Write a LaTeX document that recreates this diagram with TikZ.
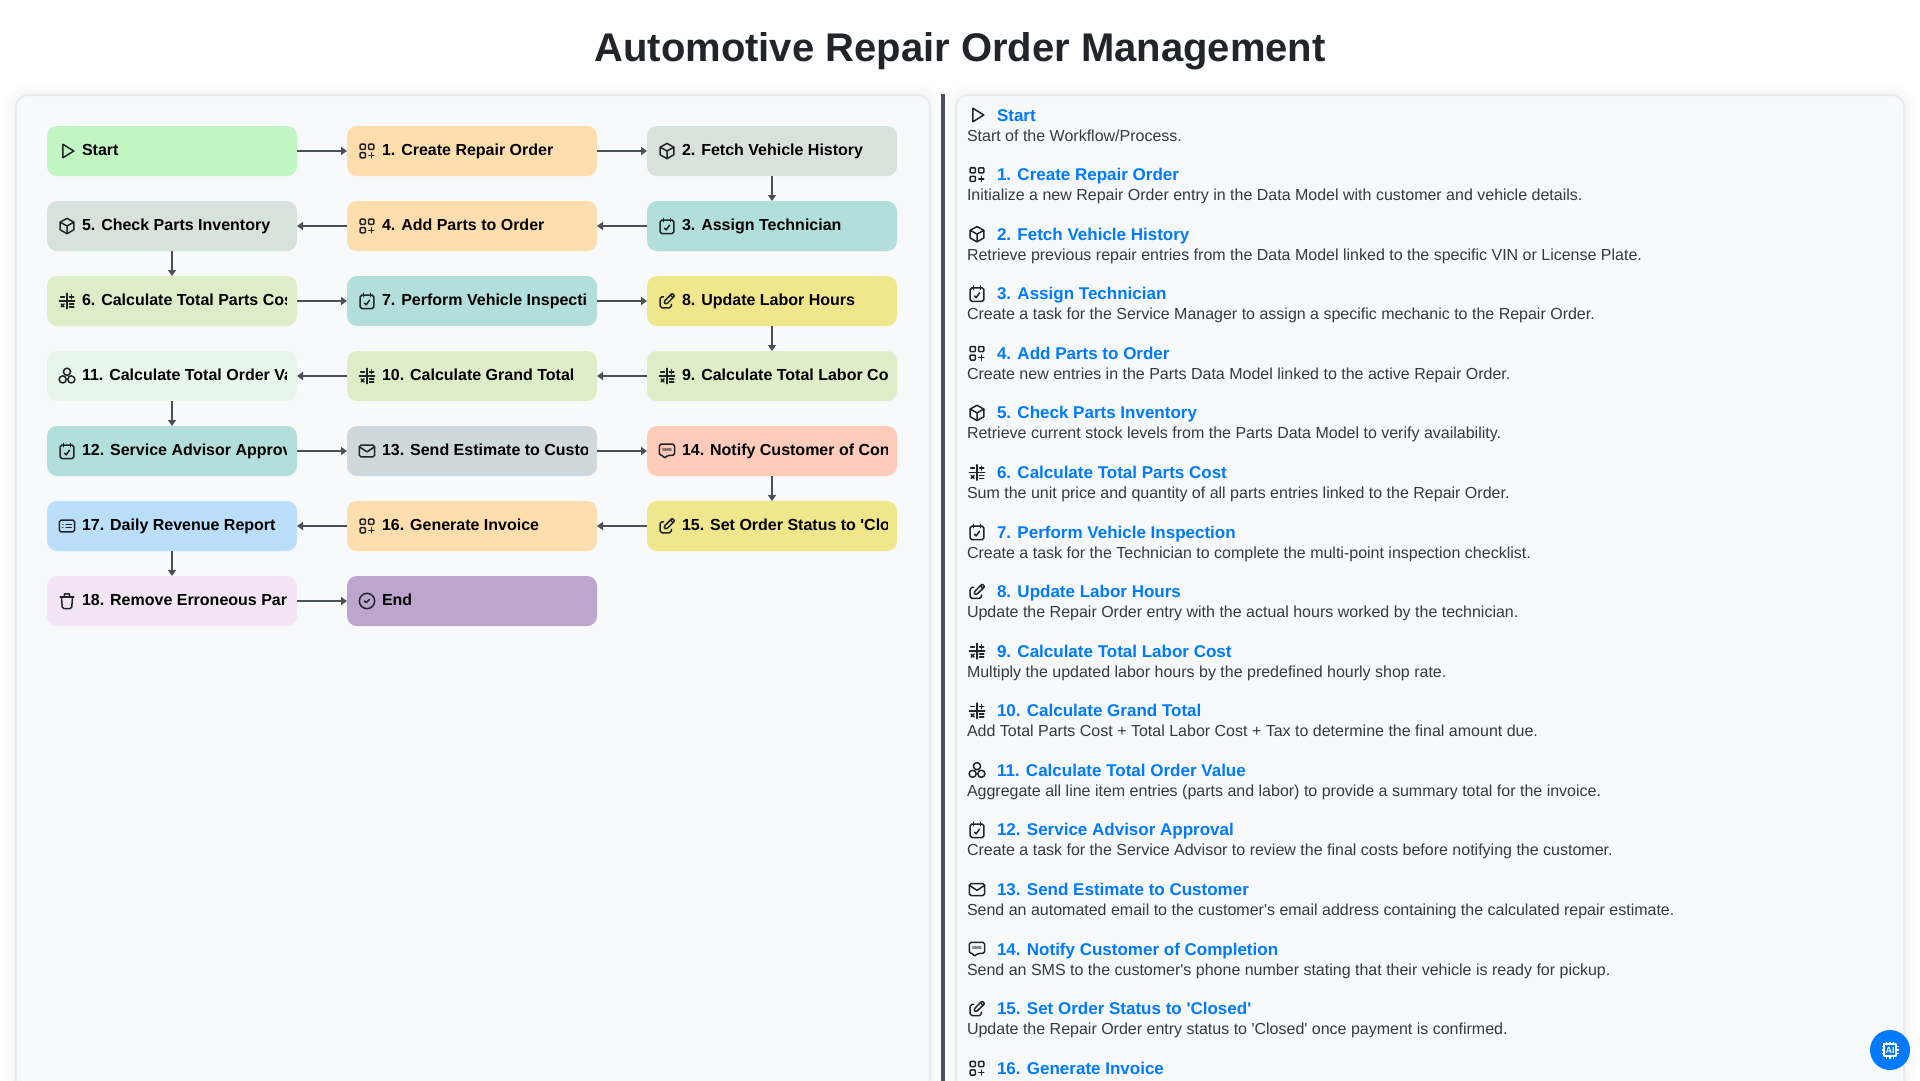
\documentclass[tikz,border=0pt]{standalone}
\usepackage{fontspec}
\usepackage{trimclip}
\usetikzlibrary{positioning,arrows.meta}
\newfontfamily\uifont{Liberation Sans}
\definecolor{startgreen}{HTML}{C1F5C1}
\definecolor{appsorange}{HTML}{FFDEAD}
\definecolor{boxgrey}{HTML}{D8E2DC}
\definecolor{taskteal}{HTML}{B2DFDB}
\definecolor{calcgreen}{HTML}{DCEDC8}
\definecolor{editkhaki}{HTML}{F0E68C}
\definecolor{sumgreen}{HTML}{E8F5E9}
\definecolor{mailgrey}{HTML}{CFD8DC}
\definecolor{smsred}{HTML}{FFCCBC}
\definecolor{reportblue}{HTML}{BBDEFB}
\definecolor{trashpink}{HTML}{F3E5F5}
\definecolor{endpurple}{HTML}{BCA6CE}
\definecolor{panelfill}{HTML}{F8F9FA}
\definecolor{panelline}{HTML}{E9ECEF}
\definecolor{arrowgrey}{HTML}{495057}
\definecolor{dividerblue}{HTML}{4A4E69}
\definecolor{linkblue}{HTML}{007BFF}
\definecolor{ink}{HTML}{212529}
\definecolor{bodytext}{HTML}{343A40}
\newcommand\steplabel[1]{\hspace*{35pt}\clipbox*{0pt -6pt 205pt 14pt}{#1}\hspace*{10pt}}
\tikzset{
  stepbox/.style={minimum width=250pt,minimum height=50pt,inner sep=0pt,outer sep=0pt,rounded corners=10pt,
    font=\uifont\bfseries\fontsize{16}{20}\selectfont,text=black},
  flow/.style={draw=arrowgrey,line width=1.7pt,-{Triangle[length=6pt,width=8pt]}},
  panel/.style={draw=panelline,line width=2pt,fill=panelfill,rounded corners=12pt},
  panelshade/.style={draw=black,opacity=.008,rounded corners=12pt},
  itemhead/.style={inner sep=0pt,outer sep=0pt,text height=13pt,text depth=7pt,text=linkblue,
    font=\uifont\bfseries\fontsize{17}{20}\selectfont},
  itemtext/.style={inner sep=0pt,outer sep=0pt,text height=13pt,text depth=7pt,text=bodytext,
    font=\uifont\fontsize{16}{20}\selectfont},
  icon/.style={x=.85pt,y=-.85pt,shift={(-12,-12)},draw=ink,line width=1.5pt,line cap=round,line join=round},
  pics/iconplay/.style={code={\begin{scope}[icon]
    \draw (7,4) -- (7,20) -- (20,12) -- cycle;
  \end{scope}}},
  pics/iconapps/.style={code={\begin{scope}[icon]
    \draw[rounded corners=.8pt] (4,4) rectangle (10,10);
    \draw[rounded corners=.8pt] (14,4) rectangle (20,10);
    \draw[rounded corners=.8pt] (4,14) rectangle (10,20);
    \draw (14,17) -- (20,17) (17,14) -- (17,20);
  \end{scope}}},
  pics/iconbox/.style={code={\begin{scope}[icon]
    \draw (12,3) -- (20,7.5) -- (20,16.5) -- (12,21) -- (4,16.5) -- (4,7.5) -- cycle;
    \draw (4,7.5) -- (12,12) -- (20,7.5) (12,12) -- (12,21);
  \end{scope}}},
  pics/iconcal/.style={code={\begin{scope}[icon]
    \draw[rounded corners=1.7pt] (4,5) rectangle (20,21);
    \draw (8,3) -- (8,7) (16,3) -- (16,7);
    \draw (9,14.5) -- (11,16.5) -- (15,11);
  \end{scope}}},
  pics/iconcalc/.style={code={\begin{scope}[icon]
    \draw (3,12) -- (21,12) (12,3) -- (12,21);
    \draw (4.5,7) -- (9,7) (15,7) -- (20,7) (17.5,4.5) -- (17.5,9.5);
    \draw (5,15.5) -- (8.5,19) (8.5,15.5) -- (5,19);
    \draw (15,15.5) -- (20,15.5) (15,19) -- (20,19);
  \end{scope}}},
  pics/iconedit/.style={code={\begin{scope}[icon]
    \draw[rounded corners=1.7pt] (8,7) -- (4,7) -- (4,20) -- (17,20) -- (17,16);
    \draw[rounded corners=.8pt] (9,12) -- (9,15) -- (12,15) -- (21,6) -- (18,3) -- cycle;
    \draw (16,5) -- (19,8);
  \end{scope}}},
  pics/iconmail/.style={code={\begin{scope}[icon]
    \draw[rounded corners=1.7pt] (3,5) rectangle (21,19);
    \draw (3,7) -- (12,13) -- (21,7);
  \end{scope}}},
  pics/iconsms/.style={code={\begin{scope}[icon]
    \draw[rounded corners=1.7pt] (3,4) -- (21,4) -- (21,17) -- (13,17) -- (8,21) -- (8,17) -- (3,17) -- cycle;
    \node (smstext) [inner sep=0pt,text=ink,font=\uifont\bfseries\fontsize{4.5}{5}\selectfont] at (12,10.5) {SMS};
  \end{scope}}},
  pics/iconlist/.style={code={\begin{scope}[icon]
    \draw[rounded corners=1.7pt] (3,5) rectangle (21,19);
    \draw (7,10) -- (7.01,10) (7,14) -- (7.01,14) (11,10) -- (17,10) (11,14) -- (17,14);
  \end{scope}}},
  pics/icontrash/.style={code={\begin{scope}[icon]
    \draw (4,7) -- (20,7);
    \draw[rounded corners=1.7pt] (5.5,7) -- (6.5,21) -- (17.5,21) -- (18.5,7);
    \draw[rounded corners=.8pt] (9,7) -- (9,3.5) -- (15,3.5) -- (15,7);
  \end{scope}}},
  pics/iconcheck/.style={code={\begin{scope}[icon]
    \draw (12,12) circle (9);
    \draw (9,12) -- (11,14) -- (15,10);
  \end{scope}}},
  pics/iconcluster/.style={code={\begin{scope}[icon]
    \draw (12,7) circle (4.2) (6.9,16) circle (4.2) (17.1,16) circle (4.2);
  \end{scope}}},
  pics/iconchip/.style={code={\begin{scope}[icon,draw=white,line cap=butt]
    \draw (5,5) rectangle (19,19);
    \draw (8,5) -- (8,2) (12,5) -- (12,2) (16,5) -- (16,2);
    \draw (8,19) -- (8,22) (12,19) -- (12,22) (16,19) -- (16,22);
    \draw (5,8) -- (2,8) (5,12) -- (2,12) (5,16) -- (2,16);
    \draw (19,8) -- (22,8) (19,12) -- (22,12) (19,16) -- (22,16);
  \end{scope}}},
}
\begin{document}
\begin{tikzpicture}[x=1pt,y=-1pt]
  \useasboundingbox (0,0) rectangle (1920,1080);
  \clip (0,0) rectangle (1920,1080);
  \fill[white] (0,0) rectangle (1920,1080);
  \node (title) [inner sep=0pt,text=ink,font=\uifont\bfseries\fontsize{40}{48}\selectfont] at (960,51) {Automotive Repair Order Management};

  % panels
  \draw[panelshade,line width=6pt] (16,95) rectangle (930,1100);
  \draw[panelshade,line width=12pt] (16,95) rectangle (930,1100);
  \draw[panelshade,line width=18pt] (16,95) rectangle (930,1100);
  \draw[panelshade,line width=24pt] (16,95) rectangle (930,1100);
  \draw[panelshade,line width=6pt] (956,95) rectangle (1904,1100);
  \draw[panelshade,line width=12pt] (956,95) rectangle (1904,1100);
  \draw[panelshade,line width=18pt] (956,95) rectangle (1904,1100);
  \draw[panelshade,line width=24pt] (956,95) rectangle (1904,1100);
  \draw[panel] (16,95) rectangle (930,1100);
  \draw[panel] (956,95) rectangle (1904,1100);
  \fill[dividerblue] (941,94) rectangle (945,1100);

  % flow
  \node (start)     [stepbox, fill=startgreen, anchor=north west] at (47,126) {\steplabel{Start}};
  \node (create)    [stepbox, fill=appsorange, right=50pt of start]     {\steplabel{1. Create Repair Order}};
  \node (fetch)     [stepbox, fill=boxgrey,    right=50pt of create]    {\steplabel{2. Fetch Vehicle History}};
  \node (assign)    [stepbox, fill=taskteal,   below=25pt of fetch]     {\steplabel{3. Assign Technician}};
  \node (addparts)  [stepbox, fill=appsorange, left=50pt of assign]     {\steplabel{4. Add Parts to Order}};
  \node (stock)     [stepbox, fill=boxgrey,    left=50pt of addparts]   {\steplabel{5. Check Parts Inventory}};
  \node (partscost) [stepbox, fill=calcgreen,  below=25pt of stock]     {\steplabel{6. Calculate Total Parts Cos}};
  \node (inspect)   [stepbox, fill=taskteal,   right=50pt of partscost] {\steplabel{7. Perform Vehicle Inspecti}};
  \node (hours)     [stepbox, fill=editkhaki,  right=50pt of inspect]   {\steplabel{8. Update Labor Hours}};
  \node (laborcost) [stepbox, fill=calcgreen,  below=25pt of hours]     {\steplabel{9. Calculate Total Labor Co}};
  \node (grand)     [stepbox, fill=calcgreen,  left=50pt of laborcost]  {\steplabel{10. Calculate Grand Total}};
  \node (ordervalue)[stepbox, fill=sumgreen,   left=50pt of grand]      {\steplabel{11. Calculate Total Order Va}};
  \node (approve)   [stepbox, fill=taskteal,   below=25pt of ordervalue]{\steplabel{12. Service Advisor Approv}};
  \node (estimate)  [stepbox, fill=mailgrey,   right=50pt of approve]   {\steplabel{13. Send Estimate to Custo}};
  \node (notify)    [stepbox, fill=smsred,     right=50pt of estimate]  {\steplabel{14. Notify Customer of Con}};
  \node (closed)    [stepbox, fill=editkhaki,  below=25pt of notify]    {\steplabel{15. Set Order Status to 'Clo}};
  \node (invoice)   [stepbox, fill=appsorange, left=50pt of closed]     {\steplabel{16. Generate Invoice}};
  \node (revenue)   [stepbox, fill=reportblue, left=50pt of invoice]    {\steplabel{17. Daily Revenue Report}};
  \node (erase)     [stepbox, fill=trashpink,  below=25pt of revenue]   {\steplabel{18. Remove Erroneous Par}};
  \node (end)       [stepbox, fill=endpurple,  right=50pt of erase]     {\steplabel{End}};

  \draw[flow] (start)      -- (create);
  \draw[flow] (create)     -- (fetch);
  \draw[flow] (fetch)      -- (assign);
  \draw[flow] (assign)     -- (addparts);
  \draw[flow] (addparts)   -- (stock);
  \draw[flow] (stock)      -- (partscost);
  \draw[flow] (partscost)  -- (inspect);
  \draw[flow] (inspect)    -- (hours);
  \draw[flow] (hours)      -- (laborcost);
  \draw[flow] (laborcost)  -- (grand);
  \draw[flow] (grand)      -- (ordervalue);
  \draw[flow] (ordervalue) -- (approve);
  \draw[flow] (approve)    -- (estimate);
  \draw[flow] (estimate)   -- (notify);
  \draw[flow] (notify)     -- (closed);
  \draw[flow] (closed)     -- (invoice);
  \draw[flow] (invoice)    -- (revenue);
  \draw[flow] (revenue)    -- (erase);
  \draw[flow] (erase)      -- (end);

  \pic at ([xshift=20pt]start.west)      {iconplay};
  \pic at ([xshift=20pt]create.west)     {iconapps};
  \pic at ([xshift=20pt]fetch.west)      {iconbox};
  \pic at ([xshift=20pt]assign.west)     {iconcal};
  \pic at ([xshift=20pt]addparts.west)   {iconapps};
  \pic at ([xshift=20pt]stock.west)      {iconbox};
  \pic at ([xshift=20pt]partscost.west)  {iconcalc};
  \pic at ([xshift=20pt]inspect.west)    {iconcal};
  \pic at ([xshift=20pt]hours.west)      {iconedit};
  \pic at ([xshift=20pt]laborcost.west)  {iconcalc};
  \pic at ([xshift=20pt]grand.west)      {iconcalc};
  \pic at ([xshift=20pt]ordervalue.west) {iconcluster};
  \pic at ([xshift=20pt]approve.west)    {iconcal};
  \pic at ([xshift=20pt]estimate.west)   {iconmail};
  \pic at ([xshift=20pt]notify.west)     {iconsms};
  \pic at ([xshift=20pt]closed.west)     {iconedit};
  \pic at ([xshift=20pt]invoice.west)    {iconapps};
  \pic at ([xshift=20pt]revenue.west)    {iconlist};
  \pic at ([xshift=20pt]erase.west)      {icontrash};
  \pic at ([xshift=20pt]end.west)        {iconcheck};

  % list on the right
  \node (h0)  [itemhead, anchor=north west] at (967,108) {\hspace*{30pt}Start};
  \node (d0)  [itemtext, below right=0pt and 0pt of h0.south west]     {Start of the Workflow/Process.};
  \node (h1)  [itemhead, below right=19.58pt and 0pt of d0.south west] {\hspace*{30pt}1. Create Repair Order};
  \node (d1)  [itemtext, below right=0pt and 0pt of h1.south west]     {Initialize a new Repair Order entry in the Data Model with customer and vehicle details.};
  \node (h2)  [itemhead, below right=19.58pt and 0pt of d1.south west] {\hspace*{30pt}2. Fetch Vehicle History};
  \node (d2)  [itemtext, below right=0pt and 0pt of h2.south west]     {Retrieve previous repair entries from the Data Model linked to the specific VIN or License Plate.};
  \node (h3)  [itemhead, below right=19.58pt and 0pt of d2.south west] {\hspace*{30pt}3. Assign Technician};
  \node (d3)  [itemtext, below right=0pt and 0pt of h3.south west]     {Create a task for the Service Manager to assign a specific mechanic to the Repair Order.};
  \node (h4)  [itemhead, below right=19.58pt and 0pt of d3.south west] {\hspace*{30pt}4. Add Parts to Order};
  \node (d4)  [itemtext, below right=0pt and 0pt of h4.south west]     {Create new entries in the Parts Data Model linked to the active Repair Order.};
  \node (h5)  [itemhead, below right=19.58pt and 0pt of d4.south west] {\hspace*{30pt}5. Check Parts Inventory};
  \node (d5)  [itemtext, below right=0pt and 0pt of h5.south west]     {Retrieve current stock levels from the Parts Data Model to verify availability.};
  \node (h6)  [itemhead, below right=19.58pt and 0pt of d5.south west] {\hspace*{30pt}6. Calculate Total Parts Cost};
  \node (d6)  [itemtext, below right=0pt and 0pt of h6.south west]     {Sum the unit price and quantity of all parts entries linked to the Repair Order.};
  \node (h7)  [itemhead, below right=19.58pt and 0pt of d6.south west] {\hspace*{30pt}7. Perform Vehicle Inspection};
  \node (d7)  [itemtext, below right=0pt and 0pt of h7.south west]     {Create a task for the Technician to complete the multi-point inspection checklist.};
  \node (h8)  [itemhead, below right=19.58pt and 0pt of d7.south west] {\hspace*{30pt}8. Update Labor Hours};
  \node (d8)  [itemtext, below right=0pt and 0pt of h8.south west]     {Update the Repair Order entry with the actual hours worked by the technician.};
  \node (h9)  [itemhead, below right=19.58pt and 0pt of d8.south west] {\hspace*{30pt}9. Calculate Total Labor Cost};
  \node (d9)  [itemtext, below right=0pt and 0pt of h9.south west]     {Multiply the updated labor hours by the predefined hourly shop rate.};
  \node (h10) [itemhead, below right=19.58pt and 0pt of d9.south west] {\hspace*{30pt}10. Calculate Grand Total};
  \node (d10) [itemtext, below right=0pt and 0pt of h10.south west]    {Add Total Parts Cost + Total Labor Cost + Tax to determine the final amount due.};
  \node (h11) [itemhead, below right=19.58pt and 0pt of d10.south west]{\hspace*{30pt}11. Calculate Total Order Value};
  \node (d11) [itemtext, below right=0pt and 0pt of h11.south west]    {Aggregate all line item entries (parts and labor) to provide a summary total for the invoice.};
  \node (h12) [itemhead, below right=19.58pt and 0pt of d11.south west]{\hspace*{30pt}12. Service Advisor Approval};
  \node (d12) [itemtext, below right=0pt and 0pt of h12.south west]    {Create a task for the Service Advisor to review the final costs before notifying the customer.};
  \node (h13) [itemhead, below right=19.58pt and 0pt of d12.south west]{\hspace*{30pt}13. Send Estimate to Customer};
  \node (d13) [itemtext, below right=0pt and 0pt of h13.south west]    {Send an automated email to the customer's email address containing the calculated repair estimate.};
  \node (h14) [itemhead, below right=19.58pt and 0pt of d13.south west]{\hspace*{30pt}14. Notify Customer of Completion};
  \node (d14) [itemtext, below right=0pt and 0pt of h14.south west]    {Send an SMS to the customer's phone number stating that their vehicle is ready for pickup.};
  \node (h15) [itemhead, below right=19.58pt and 0pt of d14.south west]{\hspace*{30pt}15. Set Order Status to 'Closed'};
  \node (d15) [itemtext, below right=0pt and 0pt of h15.south west]    {Update the Repair Order entry status to 'Closed' once payment is confirmed.};
  \node (h16) [itemhead, below right=19.58pt and 0pt of d15.south west]{\hspace*{30pt}16. Generate Invoice};

  \pic at ([shift={(10pt,3pt)}]h0.west)  {iconplay};
  \pic at ([shift={(10pt,3pt)}]h1.west)  {iconapps};
  \pic at ([shift={(10pt,3pt)}]h2.west)  {iconbox};
  \pic at ([shift={(10pt,3pt)}]h3.west)  {iconcal};
  \pic at ([shift={(10pt,3pt)}]h4.west)  {iconapps};
  \pic at ([shift={(10pt,3pt)}]h5.west)  {iconbox};
  \pic at ([shift={(10pt,3pt)}]h6.west)  {iconcalc};
  \pic at ([shift={(10pt,3pt)}]h7.west)  {iconcal};
  \pic at ([shift={(10pt,3pt)}]h8.west)  {iconedit};
  \pic at ([shift={(10pt,3pt)}]h9.west)  {iconcalc};
  \pic at ([shift={(10pt,3pt)}]h10.west) {iconcalc};
  \pic at ([shift={(10pt,3pt)}]h11.west) {iconcluster};
  \pic at ([shift={(10pt,3pt)}]h12.west) {iconcal};
  \pic at ([shift={(10pt,3pt)}]h13.west) {iconmail};
  \pic at ([shift={(10pt,3pt)}]h14.west) {iconsms};
  \pic at ([shift={(10pt,3pt)}]h15.west) {iconedit};
  \pic at ([shift={(10pt,3pt)}]h16.west) {iconapps};

  % badge
  \node (badge) [circle,fill=linkblue,minimum size=40pt,inner sep=0pt] at (1890,1050) {};
  \pic at (badge) {iconchip};
  \node (badgetext) [inner sep=0pt,text=white,font=\uifont\bfseries\fontsize{9}{10}\selectfont] at (badge) {AI};
\end{tikzpicture}
\end{document}
